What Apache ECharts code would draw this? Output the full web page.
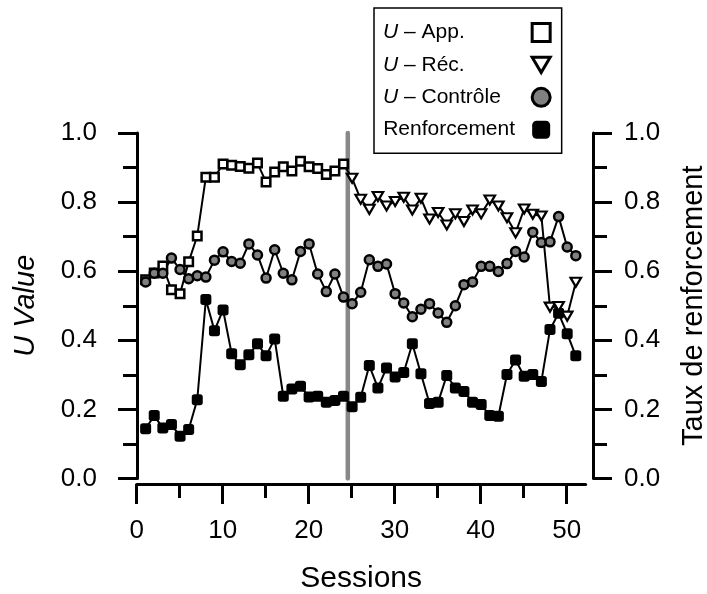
<!DOCTYPE html>
<html style="height: 100%">

<head>
    <meta charset="utf-8">
</head>

<body style="height: 100%; margin: 0">
<div id="container" style="width: 707px; height: 594px"></div>
<script type="text/javascript" src="https://cdn.jsdelivr.net/npm/echarts@6/dist/echarts.min.js"></script>
<script type="text/javascript">
    // sessions and values
    var appSessions = [1, 2, 3, 4, 5, 6, 7, 8, 9, 10, 11, 12, 13, 14, 15, 16, 17, 18, 19, 20, 21, 22, 23, 24];
    var appValues = [0.575, 0.595, 0.615, 0.546, 0.535, 0.627, 0.702, 0.872, 0.872, 0.910, 0.907, 0.903,
        0.898, 0.913, 0.858, 0.887, 0.902, 0.890, 0.918, 0.902, 0.897, 0.880, 0.890, 0.910];

    var recSessions = [25, 26, 27, 28, 29, 30, 31, 32, 33, 34, 35, 36, 37, 38, 39, 40, 41, 42, 43, 44,
        45, 46, 47, 48, 49, 50, 51];
    var recValues = [0.869, 0.808, 0.779, 0.816, 0.789, 0.802, 0.814, 0.777, 0.811, 0.751, 0.770, 0.734,
        0.766, 0.744, 0.777, 0.766, 0.806, 0.789, 0.755, 0.711, 0.780, 0.765, 0.760, 0.496, 0.498, 0.470, 0.568];

    var allSessions = [1, 2, 3, 4, 5, 6, 7, 8, 9, 10, 11, 12, 13, 14, 15, 16, 17, 18, 19, 20, 21, 22, 23, 24, 25,
        26, 27, 28, 29, 30, 31, 32, 33, 34, 35, 36, 37, 38, 39, 40, 41, 42, 43, 44, 45, 46, 47, 48, 49, 50, 51];
    var ctrlValues = [0.569, 0.594, 0.594, 0.638, 0.605, 0.578, 0.587, 0.583, 0.632, 0.656, 0.628, 0.623,
        0.679, 0.647, 0.580, 0.662, 0.594, 0.575, 0.657, 0.679, 0.592, 0.541, 0.592, 0.525, 0.506, 0.539,
        0.633, 0.614, 0.621, 0.535, 0.508, 0.468, 0.490, 0.506, 0.479, 0.452, 0.500, 0.561, 0.569, 0.614,
        0.614, 0.599, 0.622, 0.657, 0.641, 0.713, 0.683, 0.685, 0.758, 0.670, 0.645];
    var renfValues = [0.144, 0.182, 0.146, 0.156, 0.122, 0.142, 0.228, 0.518, 0.428, 0.488, 0.361, 0.329,
        0.358, 0.390, 0.355, 0.404, 0.238, 0.259, 0.267, 0.236, 0.238, 0.221, 0.226, 0.238, 0.208, 0.235,
        0.327, 0.262, 0.320, 0.294, 0.307, 0.390, 0.303, 0.217, 0.221, 0.298, 0.262, 0.252, 0.221, 0.214,
        0.182, 0.180, 0.301, 0.343, 0.296, 0.301, 0.281, 0.431, 0.478, 0.419, 0.355];

    var phaseChange = 24.5;
    var xMajorTicks = [0, 10, 20, 30, 40, 50];
    var xMinorTicks = [5, 15, 25, 35, 45];

    var font = 'Liberation Sans, Arial, sans-serif';

    function pairs(xs, ys) {
        return xs.map(function (x, i) { return [x, ys[i]]; });
    }

    // Réc line starts from the last App point (no marker there)
    var recData = [{ value: [appSessions[appSessions.length - 1], appValues[appValues.length - 1]], symbol: 'none' }]
        .concat(pairs(recSessions, recValues));

    var dom = document.getElementById("container");
    var myChart = echarts.init(dom);

    var yAxisCommon = {
        type: 'value', min: 0, max: 1, interval: 0.2,
        axisLine: { show: true, lineStyle: { color: '#000', width: 3 } },
        axisTick: { show: true, length: 19, lineStyle: { color: '#000', width: 3 } },
        minorTick: { show: true, splitNumber: 2, length: 14, lineStyle: { color: '#000', width: 3 } },
        splitLine: { show: false },
        axisLabel: {
            fontSize: 26, color: '#000', margin: 31, fontFamily: font,
            formatter: function (v) { return v.toFixed(1); }
        },
        nameLocation: 'middle'
    };

    var legendText = function (w, italic) {
        var s = { fontSize: 21, color: '#000', fontFamily: font, align: 'left' };
        if (w) s.width = w;
        if (italic) s.fontStyle = 'italic';
        return s;
    };

    option = {
        backgroundColor: '#fff',
        animation: false,
        textStyle: { fontFamily: font },
        grid: [
            { left: 128, right: 114, top: 133, bottom: 115.5, outerBoundsMode: 'none' },
            { left: 136.7, right: 121.4, bottom: 110, height: 10, outerBoundsMode: 'none' }
        ],
        legend: {
            orient: 'vertical', left: 374, top: 8, align: 'right',
            padding: [14, 10, 13, 9], itemGap: 11.4, itemWidth: 18, itemHeight: 18,
            borderColor: '#000', borderWidth: 1.5, backgroundColor: '#fff',
            textStyle: {
                fontSize: 21, color: '#000',
                rich: {
                    u: legendText(0, true),
                    t: legendText(129, false),
                    r: legendText(144, false)
                }
            },
            formatter: function (name) {
                if (name.indexOf('U ') === 0) return '{u|U}{t|' + name.slice(1) + '}';
                return '{r|' + name + '}';
            },
            data: [
                { name: 'U – App.', icon: 'rect', itemStyle: { color: '#fff', borderColor: '#000', borderWidth: 3 } },
                { name: 'U – Réc.', icon: 'path://M0,0L20,0L10,17Z', itemStyle: { color: '#fff', borderColor: '#000', borderWidth: 3 } },
                { name: 'U – Contrôle', icon: 'circle', itemStyle: { color: '#808080', borderColor: '#000', borderWidth: 3 } },
                { name: 'Renforcement', icon: 'roundRect', itemStyle: { color: '#000' } }
            ]
        },
        xAxis: [
            { gridIndex: 0, type: 'value', min: -1.05, max: 53, show: false },
            {
                gridIndex: 1, type: 'value', min: 0, max: 52.2, position: 'bottom',
                axisLine: { lineStyle: { color: '#000', width: 3 } },
                axisTick: { length: 20, customValues: xMajorTicks, lineStyle: { color: '#000', width: 3 } },
                axisLabel: { fontSize: 26, color: '#000', margin: 34, customValues: xMajorTicks },
                splitLine: { show: false },
                name: 'Sessions', nameLocation: 'middle', nameGap: 80,
                nameTextStyle: { fontSize: 30, color: '#000' }
            },
            {
                gridIndex: 1, type: 'value', min: 0, max: 52.2, position: 'bottom',
                axisLine: { show: false },
                axisTick: { length: 14, customValues: xMinorTicks, lineStyle: { color: '#000', width: 3 } },
                axisLabel: { show: false },
                splitLine: { show: false }
            }
        ],
        yAxis: [
            Object.assign({}, yAxisCommon, {
                gridIndex: 0, position: 'left',
                name: 'U Value', nameGap: 88,
                nameTextStyle: { fontSize: 29, fontStyle: 'italic', color: '#000' }
            }),
            Object.assign({}, yAxisCommon, {
                gridIndex: 0, position: 'right',
                name: 'Taux de renforcement', nameGap: 86,
                nameTextStyle: { fontSize: 29, color: '#000' }
            }),
            { gridIndex: 1, type: 'value', show: false }
        ],
        series: [
            {
                type: 'line', silent: true, z: 1,
                data: [[phaseChange, 0], [phaseChange, 1]],
                symbol: 'none',
                lineStyle: { color: '#888', width: 4.5, cap: 'round' }
            },
            {
                name: 'Renforcement', type: 'line', yAxisIndex: 1,
                data: pairs(allSessions, renfValues),
                symbol: 'roundRect', symbolSize: 11,
                itemStyle: { color: '#000' },
                lineStyle: { color: '#000', width: 2 }
            },
            {
                name: 'U – App.', type: 'line',
                data: pairs(appSessions, appValues),
                symbol: 'rect', symbolSize: 8.5,
                itemStyle: { color: '#fff', borderColor: '#000', borderWidth: 2.5 },
                lineStyle: { color: '#000', width: 2 }
            },
            {
                name: 'U – Réc.', type: 'line',
                data: recData,
                symbol: 'triangle', symbolRotate: 180, symbolSize: [10.5, 9],
                itemStyle: { color: '#fff', borderColor: '#000', borderWidth: 2.2 },
                lineStyle: { color: '#000', width: 2 }
            },
            {
                name: 'U – Contrôle', type: 'line',
                data: pairs(allSessions, ctrlValues),
                symbol: 'circle', symbolSize: 9,
                itemStyle: { color: '#808080', borderColor: '#000', borderWidth: 2.5 },
                lineStyle: { color: '#000', width: 2 }
            }
        ]
    };

    if (option && typeof option === "object") {
        myChart.setOption(option, true);
    }
</script>
</body>

</html>
